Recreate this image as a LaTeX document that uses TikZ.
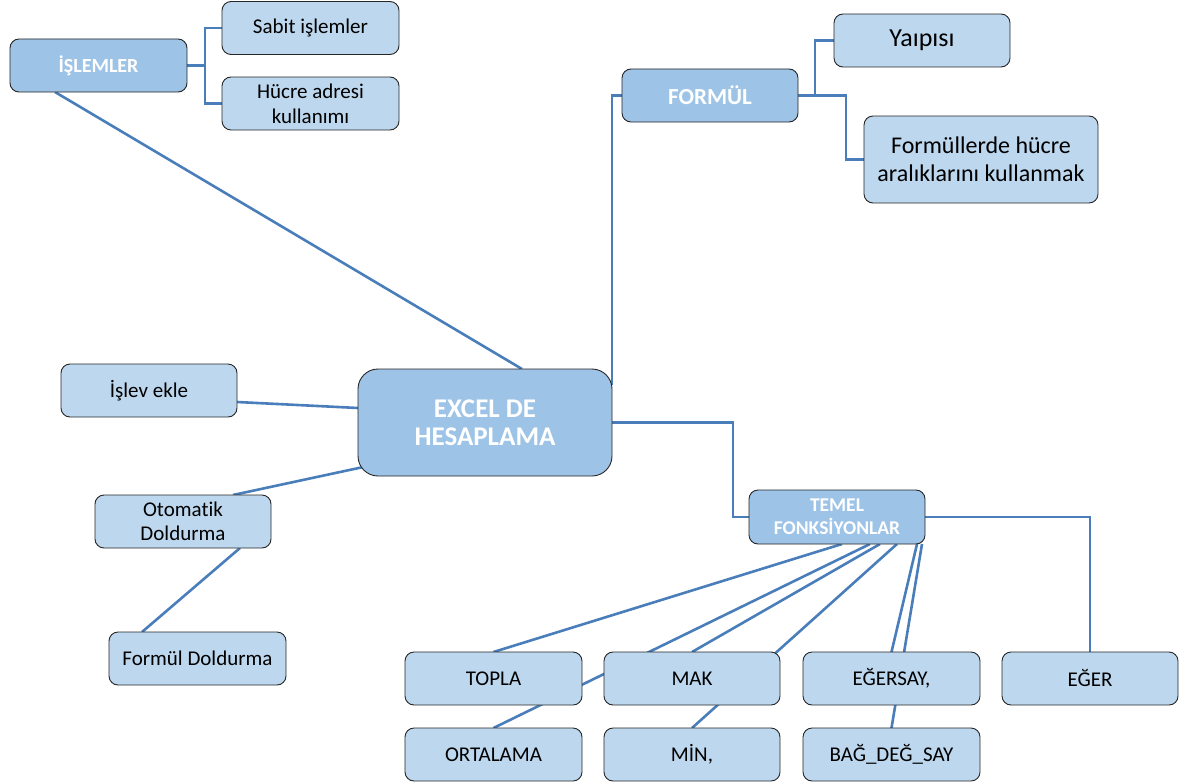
\documentclass[tikz,border=0pt]{standalone}
\usepackage{fontspec}
\setmainfont{Carlito}[Ligatures=NoCommon]
\pgfdeclarelayer{bg}
\pgfsetlayers{bg,main}
\definecolor{darkfill}{HTML}{9DC3E6}
\definecolor{lightfill}{HTML}{BDD7EE}
\definecolor{conn}{HTML}{4A7EBB}
\definecolor{edge}{HTML}{262626}
\tikzset{
  box/.style={draw=edge, line width=0.9pt, rounded corners=9pt, fill=lightfill,
    minimum width=177pt, minimum height=53pt, inner sep=2pt, outer sep=0pt,
    align=center, font=\fontsize{21}{25}\selectfont},
  hub/.style={box, fill=darkfill, text=white, font=\bfseries\fontsize{20}{23}\selectfont},
  link/.style={draw=conn, line width=2.6pt},
}
\begin{document}
\begin{tikzpicture}[x=1pt,y=-1pt]
\useasboundingbox (0,0) rectangle (1199,784);
% nodes
\node[hub] (islemler) at (98.5,65.5) {İŞLEMLER};
\node[box] (sabit) at (310.5,28) {Sabit işlemler};
\node[box] (hucre) at (310.5,103.5) {Hücre adresi\\kullanımı};
\node[hub, minimum width=176pt, font=\bfseries\fontsize{23}{27}\selectfont] (formul) at (710,95.5) {FORMÜL};
\node[box, minimum width=176pt, font=\fontsize{26}{30}\selectfont] (yapi) at (922,40.5) {Yaıpısı};
\node[box, minimum width=234pt, minimum height=87pt, font=\fontsize{24}{28}\selectfont] (formuller) at (981,159.5) {Formüllerde hücre\\aralıklarını kullanmak};
\node[hub, minimum width=254pt, minimum height=107pt, rounded corners=20pt, font=\bfseries\fontsize{27}{28.5}\selectfont] (excel) at (485,422.5) {EXCEL DE\\HESAPLAMA};
\node[box, minimum width=176pt] (islev) at (149,390.5) {İşlev ekle};
\node[box, minimum width=176pt, font=\fontsize{21}{24}\selectfont] (otomatik) at (183,521.5) {Otomatik\\Doldurma};
\node[box] (formuldold) at (197.5,658.5) {Formül Doldurma};
\node[hub, minimum width=176pt, minimum height=54pt, font=\bfseries\fontsize{19.5}{23}\selectfont] (temel) at (837,517) {TEMEL\\FONKSİYONLAR};
\node[box] (topla) at (493.5,678.5) {TOPLA};
\node[box] (ortalama) at (493.5,754.5) {ORTALAMA};
\node[box, minimum width=176pt] (mak) at (692,678.5) {MAK};
\node[box, minimum width=176pt] (min) at (692,754.5) {MİN,};
\node[box] (egersay) at (891.5,678.5) {EĞERSAY,};
\node[box] (bag) at (891.5,754.5) {BAĞ\_DEĞ\_SAY};
\node[box, minimum width=176pt] (eger) at (1090,678.5) {EĞER};
% connectors
\begin{pgfonlayer}{bg}
\draw[link] (islemler.east) -- ++(18,0) |- (sabit.west);
\draw[link] (islemler.east) -- ++(18,0) |- (hucre.west);
\draw[link] ([xshift=-43.5pt]islemler.south) -- ([xshift=37pt]excel.north);
\draw[link] (formul.west) -| ([yshift=-16pt]excel.north east);
\draw[link] (formul.east) -- ++(17,0) |- (yapi.west);
\draw[link] (formul.east) -- ++(48,0) |- (formuller.west);
\draw[link] (excel.east) -- ++(121,0) |- (temel.west);
\draw[link] (temel.east) -| (eger.north);
\draw[link] ([yshift=-11.5pt]islev.east) -- ([yshift=14.5pt]excel.west);
\draw[link] ([xshift=50pt]otomatik.north) -- ([xshift=10pt,yshift=10pt]excel.south west);
\draw[link] ([xshift=57pt]otomatik.south) -- ([xshift=-55.5pt]formuldold.north);
\draw[link] ([xshift=5pt]temel.south) -- (topla.north);
\draw[link] ([xshift=33pt]temel.south) -- (ortalama.north);
\draw[link] ([xshift=43pt]temel.south) -- (mak.north);
\draw[link] ([xshift=60pt]temel.south) -- (min.north);
\draw[link] ([xshift=80pt]temel.south) -- (egersay.north);
\draw[link] ([xshift=85pt]temel.south) -- (bag.north);
\end{pgfonlayer}
\end{tikzpicture}
\end{document}
